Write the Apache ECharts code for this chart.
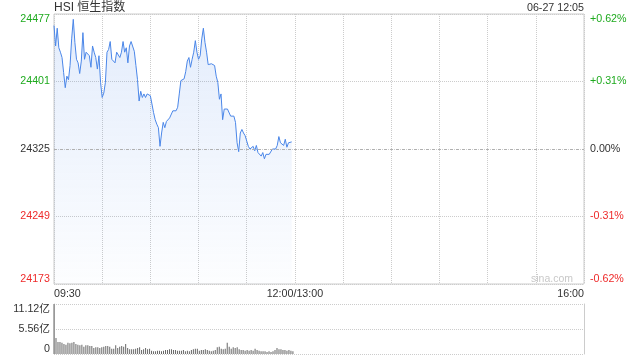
<!DOCTYPE html>
<html>
<head>
<meta charset="utf-8">
<script src="https://cdn.jsdelivr.net/npm/echarts@6/dist/echarts.min.js"></script>
<style>html,body{margin:0;padding:0;background:#fff;}#c{width:640px;height:360px;}</style>
</head>
<body>
<div id="c"></div>
<script>
// ---- data ----
const PREV_CLOSE = 24325;
const priceTicks = [24173, 24249, 24325, 24401, 24477];
const xLabels = { 0: '09:30', 150: '12:00/13:00', 330: '16:00' };
// minute-by-minute index price, 09:30 onwards
const price = [24464,24441,24461,24439,24434,24428,24411,24394,24407,24403,
24419,24449,24471,24445,24426,24422,24410,24424,24456,24426,
24434,24432,24430,24417,24441,24434,24428,24415,24430,24400,24383,
24388,24400,24434,24437,24446,24426,24428,24422,24434,24435,
24428,24434,24446,24434,24439,24422,24441,24446,24445,24435,
24419,24403,24379,24390,24383,24387,24383,24387,24385,24385,24383,
24366,24358,24353,24349,24328,24343,24355,24349,24356,24355,
24360,24361,24368,24370,24368,24372,24387,24402,24403,24404,24412,
24424,24428,24417,24426,24434,24447,24434,24426,24430,24449,
24461,24445,24434,24420,24420,24421,24420,24419,24407,24400,24381,
24387,24358,24370,24372,24370,24371,24362,24360,24362,24355,
24332,24322,24343,24347,24343,24340,24338,24328,24325,24327,24328,
24323,24329,24321,24323,24317,24321,24314,24319,24317,24319,
24321,24325,24323,24325,24329,24339,24332,24332,24329,24336,24327,
24332,24334,24333];
// turnover (亿)
const vol = [11.12,3.56,2.67,2.67,2.52,2.22,2.08,2.52,2.37,2.52,
2.67,2.22,2.08,1.93,2.08,1.63,1.93,1.93,1.78,1.78,
1.33,1.48,1.48,1.33,1.48,1.63,1.78,1.78,1.63,1.19,
1.19,1.93,1.33,1.63,1.78,1.63,2.22,1.33,1.04,1.04,
1.04,1.19,1.33,1.48,0.89,1.04,1.33,1.04,1.19,0.74,
0.59,0.59,0.74,0.74,0.59,0.74,0.89,0.89,1.04,1.04,
0.89,
0.89,0.74,0.74,0.74,0.89,0.59,0.74,0.59,0.89,1.04,
1.19,1.19,0.74,0.89,0.89,1.04,0.89,0.74,0.59,0.74,
0.89,1.48,1.63,1.19,1.04,1.19,2.52,1.63,1.19,1.48,
1.33,1.48,1.04,0.89,0.89,0.74,0.89,0.74,0.89,0.74,
1.19,0.89,0.74,0.59,0.59,0.59,0.44,0.59,0.44,0.59,
0.89,1.33,1.04,1.04,0.89,0.89,0.74,0.89,0.74,0.59];
const volMax = 11.12;
const MORNING_MINUTES = 150; // turnover bars span the morning session

const GREEN = '#1eaa1e', RED = '#ee2a2a', DARK = '#333';
const FONT = "'Liberation Sans', Arial, 'Noto Sans CJK SC', sans-serif";
const FS = 10.7;

const range = priceTicks[priceTicks.length - 1] - PREV_CLOSE;
const step = priceTicks[1] - priceTicks[0];
const volStep = MORNING_MINUTES / vol.length;

function signColor(v) { return v > 1e-9 ? GREEN : (v < -1e-9 ? RED : DARK); }

const chart = echarts.init(document.getElementById('c'), null, { renderer: 'canvas' });
chart.setOption({
  animation: false,
  textStyle: { fontFamily: FONT },
  title: [
    { text: 'HSI 恒生指数', left: 54, top: 2, padding: 0,
      textStyle: { fontSize: 12, fontWeight: 'normal', color: DARK, fontFamily: FONT } },
    { text: '06-27 12:05', right: 56, top: 3, padding: 0,
      textStyle: { fontSize: FS, fontWeight: 'normal', color: DARK, fontFamily: FONT } }
  ],
  grid: [
    { left: 54, right: 56, top: 14, height: 270, show: true, borderColor: '#ccc', borderWidth: 1, backgroundColor: 'transparent' },
    { left: 54, right: 56, top: 304, height: 50, show: false }
  ],
  xAxis: [
    { type: 'value', gridIndex: 0, min: 0, max: 330, interval: 30,
      axisLine: { show: false }, axisTick: { show: false },
      splitLine: { show: true, lineStyle: { color: '#ccc', type: 'dotted', width: 1 } },
      axisLabel: { show: true, margin: 5, fontSize: FS, color: DARK, fontFamily: FONT,
        showMinLabel: true, showMaxLabel: true,
        alignMinLabel: 'left', alignMaxLabel: 'right',
        formatter: v => xLabels[Math.round(v)] || '' } },
    { type: 'value', gridIndex: 1, min: 0, max: 330, interval: 30,
      axisLine: { show: false }, axisTick: { show: false }, axisLabel: { show: false },
      splitLine: { show: false } }
  ],
  yAxis: [
    { type: 'value', gridIndex: 0, min: -range, max: range, interval: step,
      axisLine: { show: false }, axisTick: { show: false },
      splitLine: { show: true, lineStyle: { color: '#ccc', type: 'dotted', width: 1 } },
      axisLabel: { margin: 4, fontSize: FS, fontFamily: FONT,
        verticalAlignMinLabel: 'bottom', verticalAlignMaxLabel: 'top',
        color: v => signColor(+v),
        formatter: v => String(Math.round(PREV_CLOSE + v)) } },
    { type: 'value', gridIndex: 0, position: 'right', min: -range, max: range, interval: step,
      axisLine: { show: false }, axisTick: { show: false }, splitLine: { show: false },
      axisLabel: { margin: 6, fontSize: FS, fontFamily: FONT,
        verticalAlignMinLabel: 'bottom', verticalAlignMaxLabel: 'top',
        color: v => signColor(+v),
        formatter: v => { const p = v / PREV_CLOSE * 100; return (p > 1e-9 ? '+' : '') + p.toFixed(2) + '%'; } } },
    { type: 'value', gridIndex: 1, min: 0, max: volMax, interval: volMax / 2,
      axisLine: { show: true, lineStyle: { color: '#ccc' } }, axisTick: { show: false },
      splitLine: { show: true, lineStyle: { color: '#ccc', type: 'dotted', width: 1 } },
      axisLabel: { margin: 4, fontSize: FS, fontFamily: FONT, color: DARK,
        verticalAlignMinLabel: 'bottom', verticalAlignMaxLabel: 'top',
        formatter: v => v === 0 ? '0' : v.toFixed(2) + '亿' } },
    { type: 'value', gridIndex: 1, position: 'right', min: 0, max: volMax, interval: volMax / 2,
      axisLine: { show: true, lineStyle: { color: '#ccc' } }, axisTick: { show: false },
      splitLine: { show: false }, axisLabel: { show: false } }
  ],
  series: [
    { type: 'line', xAxisIndex: 0, yAxisIndex: 0,
      data: price.map((p, i) => [i, p - PREV_CLOSE]),
      showSymbol: false, symbol: 'none',
      lineStyle: { color: '#4a86e8', width: 1 },
      areaStyle: { origin: 'start',
        color: new echarts.graphic.LinearGradient(0, 0, 0, 1, [
          { offset: 0, color: 'rgba(74,134,232,0.22)' },
          { offset: 1, color: 'rgba(74,134,232,0.02)' }
        ]) },
      markLine: { silent: true, symbol: ['none', 'none'], label: { show: false },
        lineStyle: { color: '#b0b0b0', type: [3, 3], width: 1 },
        data: [{ yAxis: 0 }] } },
    { type: 'bar', xAxisIndex: 1, yAxisIndex: 2,
      data: vol.map((v, i) => [i * volStep, v]),
      barWidth: 1, itemStyle: { color: '#666' } }
  ],
  graphic: [
    { type: 'text', right: 67, top: 274, silent: true,
      style: { text: 'sina.com', fill: '#c8c8c8', font: '10.5px ' + FONT } }
  ]
});
</script>
</body>
</html>
